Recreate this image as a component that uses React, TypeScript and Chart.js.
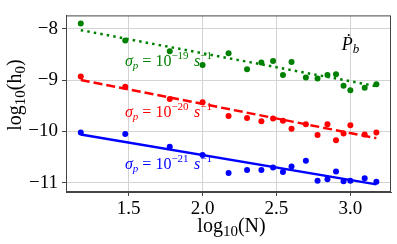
import React, { useEffect, useRef } from "react";
import { Chart, registerables } from "chart.js";

Chart.register(...registerables);

const xLog = [1.176, 1.477, 1.778, 2.0, 2.176, 2.301, 2.398, 2.477, 2.544, 2.602, 2.699, 2.778, 2.845, 2.903, 2.954, 3.0, 3.097, 3.176];
const greenY = [-7.9, -8.23, -8.44, -8.71, -8.48, -8.79, -8.66, -8.63, -8.9, -8.65, -8.95, -8.97, -8.9, -8.89, -9.11, -9.2, -9.15, -9.08];
const redY = [-8.93, -9.13, -9.37, -9.43, -9.7, -9.74, -9.8, -9.75, -9.79, -9.95, -9.86, -10.07, -9.86, -10.17, -10.04, -9.88, -10.06, -10.02];
const blueY = [-10.02, -10.05, -10.3, -10.46, -10.81, -10.75, -10.75, -10.7, -10.79, -10.68, -10.57, -10.96, -10.93, -10.78, -10.97, -10.96, -10.91, -10.98];

const fitX = [1.176, 3.176];
const fitGreen = [-8.03, -9.12];
const fitRed = [-9.0, -10.13];
const fitBlue = [-10.06, -11.03];

const xTicks = [1.5, 2.0, 2.5, 3.0];
const yTicks = [-8, -9, -10, -11];

const labelExponents = ["−19", "−20", "−21"];
const labelColors = ["#008000", "#ff0000", "#0000ff"];

const FONT = "'Liberation Serif', 'Times New Roman', serif";

type Run = { t: string; size: number; italic?: boolean; dy?: number };

function runsWidth(ctx: CanvasRenderingContext2D, runs: Run[]) {
  let w = 0;
  for (const r of runs) {
    ctx.font = `${r.italic ? "italic " : ""}${r.size}px ${FONT}`;
    w += ctx.measureText(r.t).width;
  }
  return w;
}

function drawRuns(ctx: CanvasRenderingContext2D, runs: Run[], x: number, y: number, color: string) {
  ctx.fillStyle = color;
  ctx.textBaseline = "alphabetic";
  ctx.textAlign = "left";
  let cx = x;
  for (const r of runs) {
    ctx.font = `${r.italic ? "italic " : ""}${r.size}px ${FONT}`;
    ctx.fillText(r.t, cx, y + (r.dy || 0));
    cx += ctx.measureText(r.t).width;
  }
}

export default function App() {
  const ref = useRef<HTMLCanvasElement>(null);
  useEffect(() => {
    const canvas = ref.current!;
    const pts = (ys: number[]) => xLog.map((x, i) => ({ x, y: ys[i] }));
    const fit = (ys: number[]) => fitX.map((x, i) => ({ x, y: ys[i] }));

    const textPlugin = {
      id: "texts",
      afterDraw(chart: any) {
        const ctx: CanvasRenderingContext2D = chart.ctx;
        const a = chart.chartArea;
        const xs = chart.scales.x;
        const ys = chart.scales.y;
        ctx.save();
        // frame
        ctx.strokeStyle = "#444";
        ctx.lineWidth = 1;
        ctx.strokeRect(a.left + 0.5, a.top + 0.5, a.right - a.left - 1, a.bottom - a.top - 1);

        // x axis label
        const xl: Run[] = [
          { t: "log", size: 20 },
          { t: "10", size: 15, dy: 4 },
          { t: "(N)", size: 20 },
        ];
        const wx = runsWidth(ctx, xl);
        drawRuns(ctx, xl, (a.left + a.right) / 2 - wx / 2 + 3, 232, "#000");

        // y axis label
        const yl: Run[] = [
          { t: "log", size: 20 },
          { t: "10", size: 15, dy: 4 },
          { t: "(h", size: 20 },
          { t: "0", size: 15, dy: 4 },
          { t: ")", size: 20 },
        ];
        const wy = runsWidth(ctx, yl);
        ctx.save();
        ctx.translate(21, 95);
        ctx.rotate(-Math.PI / 2);
        drawRuns(ctx, yl, -wy / 2, 0, "#000");
        ctx.restore();

        // sigma labels
        const labelY = [-8.722, -9.715, -10.726];
        for (let i = 0; i < 3; i++) {
          const runs: Run[] = [
            { t: "σ", size: 16, italic: true },
            { t: "p", size: 11, italic: true, dy: 3 },
            { t: " = 10", size: 16 },
            { t: labelExponents[i], size: 11, dy: -7 },
            { t: "  ", size: 11 },
            { t: "s", size: 16, italic: true },
            { t: "−1", size: 11, dy: -7 },
          ];
          drawRuns(ctx, runs, xs.getPixelForValue(1.475), ys.getPixelForValue(labelY[i]), labelColors[i]);
        }

        // P dot b
        const pb: Run[] = [
          { t: "Ṗ", size: 18, italic: true },
          { t: "b", size: 13, italic: true, dy: 3 },
        ];
        drawRuns(ctx, pb, xs.getPixelForValue(2.941), ys.getPixelForValue(-8.417), "#000");
        ctx.restore();
      },
    };

    const chart = new Chart(canvas, {
      type: "scatter",
      data: {
        datasets: [
          { data: pts(greenY), backgroundColor: "#008000", borderColor: "#008000", pointRadius: 3, pointBorderWidth: 0 },
          { data: pts(redY), backgroundColor: "#ff0000", borderColor: "#ff0000", pointRadius: 3, pointBorderWidth: 0 },
          { data: pts(blueY), backgroundColor: "#0000ff", borderColor: "#0000ff", pointRadius: 3, pointBorderWidth: 0 },
          { data: fit(fitGreen), showLine: true, borderColor: "#008000", borderWidth: 2.5, borderDash: [2.5, 4.1], pointRadius: 0, fill: false },
          { data: fit(fitRed), showLine: true, borderColor: "#ff0000", borderWidth: 2.5, borderDash: [9, 4], pointRadius: 0, fill: false },
          { data: fit(fitBlue), showLine: true, borderColor: "#0000ff", borderWidth: 2.5, pointRadius: 0, fill: false },
        ] as any,
      },
      options: {
        animation: false,
        responsive: false,
        layout: { padding: { top: 5, right: 6, left: 0, bottom: 0 } },
        plugins: { legend: { display: false }, tooltip: { enabled: false } },
        scales: {
          x: {
            type: "linear",
            min: 1.076,
            max: 3.275,
            afterBuildTicks: (s: any) => {
              s.ticks = xTicks.map((v) => ({ value: v }));
            },
            afterFit: (s: any) => {
              s.height = 52;
            },
            ticks: {
              callback: (v: any) => Number(v).toFixed(1),
              font: { family: FONT, size: 19 },
              color: "#000",
              padding: 2,
              maxRotation: 0,
            },
            grid: { color: "#d3d3d3", tickColor: "#444", tickLength: 4, lineWidth: 1 },
            border: { color: "#444" },
          },
          y: {
            type: "linear",
            min: -11.178,
            max: -7.743,
            afterBuildTicks: (s: any) => {
              s.ticks = yTicks.map((v) => ({ value: v }));
            },
            afterFit: (s: any) => {
              s.width = 66;
            },
            ticks: {
              callback: (v: any) => String(v).replace("-", "−"),
              font: { family: FONT, size: 19 },
              color: "#000",
              padding: 4,
            },
            grid: { color: "#d3d3d3", tickColor: "#444", tickLength: 4, lineWidth: 1 },
            border: { color: "#444" },
          },
        },
      } as any,
      plugins: [textPlugin],
    });
    return () => chart.destroy();
  }, []);

  return (
    <div style={{ position: "absolute", left: 0, top: 0, width: 397, height: 244, background: "#fff" }}>
      <canvas ref={ref} width={397} height={244} />
    </div>
  );
}
